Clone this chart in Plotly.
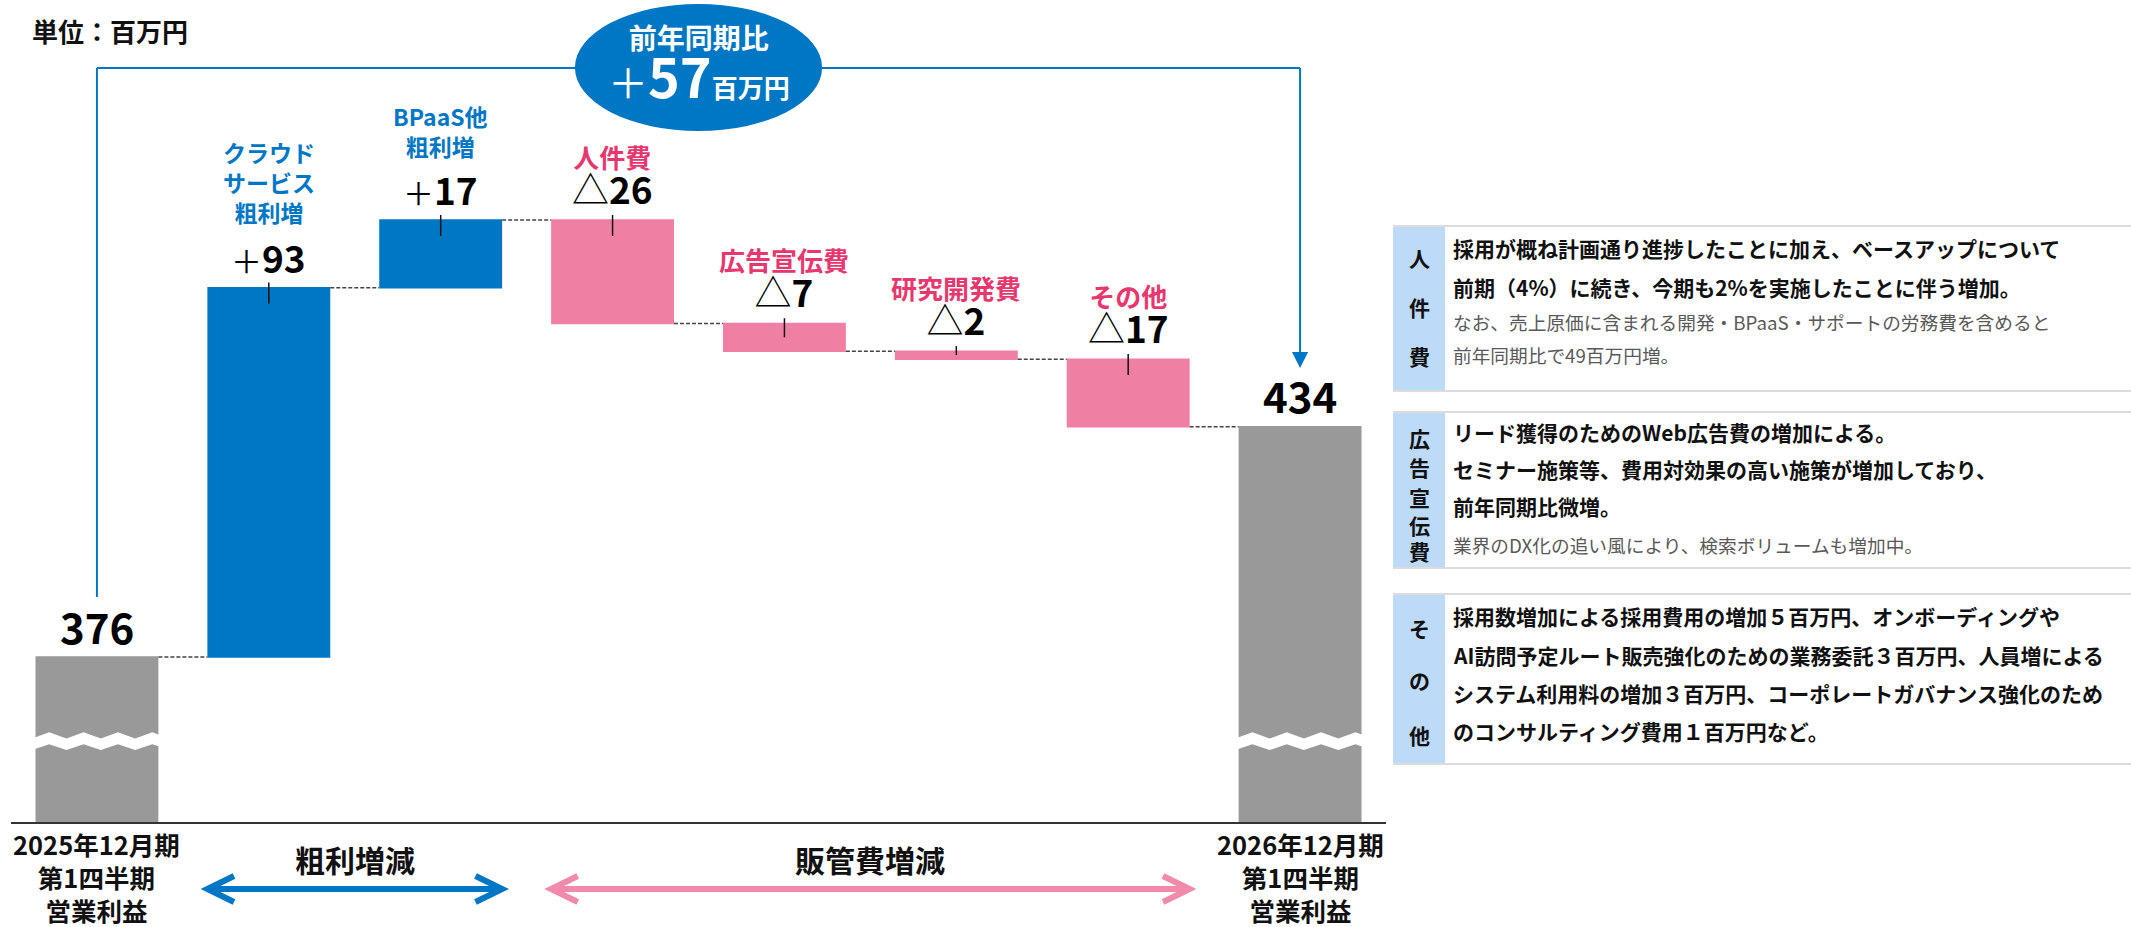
import plotly.graph_objects as go

FIG_W, FIG_H = 2131, 927
FONT = "Noto Sans CJK JP"

# ---------------- data ----------------
STEP_KEYS = ["start", "cloud", "bpaas", "labor", "ads", "rnd", "other", "end"]
STEP_MEASURES = ["absolute", "relative", "relative", "relative",
                 "relative", "relative", "relative", "absolute"]
STEP_VALUES = [376, 93, 17, -26, -7, -2, -17, 434]
STEP_TITLES = [[], ["クラウド", "サービス", "粗利増"], ["BPaaS他", "粗利増"],
               ["人件費"], ["広告宣伝費"], ["研究開発費"], ["その他"], []]
PERIOD_LABELS = [["2025年12月期", "第1四半期", "営業利益"],
                 ["2026年12月期", "第1四半期", "営業利益"]]
GROUP_LABELS = ["粗利増減", "販管費増減"]
GROUP_SPANS = [(1, 2), (3, 6)]
YOY_TITLE = "前年同期比"
YOY_CHANGE = 57
UNIT_LABEL = "単位：百万円"

NOTE_TITLES = ["人件費", "広告宣伝費", "その他"]
NOTE_BOLD = [
    ["採用が概ね計画通り進捗したことに加え、ベースアップについて",
     "前期（4%）に続き、今期も2%を実施したことに伴う増加。"],
    ["リード獲得のためのWeb広告費の増加による。",
     "セミナー施策等、費用対効果の高い施策が増加しており、",
     "前年同期比微増。"],
    ["採用数増加による採用費用の増加５百万円、オンボーディングや",
     "AI訪問予定ルート販売強化のための業務委託３百万円、人員増による",
     "システム利用料の増加３百万円、コーポレートガバナンス強化のため",
     "のコンサルティング費用１百万円など。"],
]
NOTE_SMALL = [
    ["なお、売上原価に含まれる開発・BPaaS・サポートの労務費を含めると",
     "前年同期比で49百万円増。"],
    ["業界のDX化の追い風により、検索ボリュームも増加中。"],
    [],
]

# ---------------- styles ----------------
BLUE = "#0077C4"
PINK_BAR = "#EF80A3"
PINK_TEXT = "#E6386F"
GREY = "#999999"
ARROW_PINK = "#F28BAB"
NOTE_TAB = "#BDDAF8"
NOTE_LINE = "#DCDCDC"

Y_MIN, Y_MAX = 334.5, 541.4          # broken value axis
BAR_W = 0.715
X_DOMAIN = (11 / FIG_W, 1386 / FIG_W)
Y_DOMAIN = (1 - 822 / FIG_H, 1.0)


def pxx(x):
    return x / FIG_W


def pxy(y):
    return 1 - y / FIG_H


def value_text(measure, v):
    if measure != "relative":
        return f"<b>{v}</b>"
    if v > 0:
        return f"<span style='font-size:31px'>＋</span><b>{v}</b>"
    return f"△<b>{abs(v)}</b>"


xs = list(range(len(STEP_KEYS)))

# bar extents along the running total
tops, bottoms = [], []
running = 0
for m, v in zip(STEP_MEASURES, STEP_VALUES):
    if m == "absolute":
        running = v
        tops.append(v)
        bottoms.append(Y_MIN)
    else:
        start, running = running, running + v
        tops.append(max(start, running))
        bottoms.append(min(start, running))

fig = go.Figure()
fig.add_trace(go.Waterfall(
    x=xs, y=STEP_VALUES, measure=STEP_MEASURES, width=BAR_W,
    increasing=dict(marker=dict(color=BLUE)),
    decreasing=dict(marker=dict(color=PINK_BAR)),
    totals=dict(marker=dict(color=GREY)),
    connector=dict(line=dict(color="#444444", width=1.5, dash="4px,2px")),
    hoverinfo="skip", showlegend=False,
))

# small leader ticks crossing the top of each change bar
tx, ty = [], []
for i, m in enumerate(STEP_MEASURES):
    if m == "relative":
        lo = max(tops[i] - 4.0, (tops[i] + bottoms[i]) / 2)
        tx += [i, i, None]
        ty += [tops[i] + 1.3, lo, None]
fig.add_trace(go.Scatter(x=tx, y=ty, mode="lines",
                         line=dict(color="#111111", width=1.5),
                         hoverinfo="skip", showlegend=False))

annotations = []
shapes = []

# value labels and step titles
for i, (m, v) in enumerate(zip(STEP_MEASURES, STEP_VALUES)):
    lines = STEP_TITLES[i]
    if m != "relative":
        annotations.append(dict(x=i, y=tops[i], xref="x", yref="y",
                                text=value_text(m, v), showarrow=False,
                                yanchor="middle", yshift=32,
                                font=dict(family=FONT, size=42,
                                          color="#000000")))
    elif v > 0:
        annotations.append(dict(x=i, y=tops[i], xref="x", yref="y",
                                text=value_text(m, v), showarrow=False,
                                yanchor="middle", yshift=31,
                                font=dict(family=FONT, size=37,
                                          color="#000000")))
        annotations.append(dict(x=i, y=tops[i], xref="x", yref="y",
                                text="<br>".join(lines), showarrow=False,
                                yanchor="middle",
                                yshift=106 if len(lines) > 2 else 89,
                                font=dict(family=FONT, size=23, color=BLUE,
                                          weight="bold")))
    else:
        txt = (f"<span style='font-size:26px'><b>{lines[0]}</b></span><br>"
               f"<span style='font-size:37px;color:#000000'>"
               f"{value_text(m, v)}</span>")
        annotations.append(dict(x=i, y=tops[i], xref="x", yref="y",
                                text=txt, showarrow=False, yanchor="middle",
                                yshift=44,
                                font=dict(family=FONT, size=27.5,
                                          color=PINK_TEXT)))

# axis break zigzag on the two totals
for i, m in enumerate(STEP_MEASURES):
    if m != "absolute":
        continue
    xl = i - BAR_W / 2 - 0.02
    up, low = [], []
    for k in range(9):
        x = xl + 0.1 * k
        up.append((x, 357.1 if k % 2 else 355.5))
        low.append((x, 354.1 if k % 2 else 352.6))
    pts = up + low[::-1]
    path = "M " + " L ".join(f"{x:.4f},{y:.3f}" for x, y in pts) + " Z"
    shapes.append(dict(type="path", xref="x", yref="y", path=path,
                       fillcolor="white", line=dict(width=0), layer="above"))

# year-on-year bracket
first, last = 0, len(STEP_KEYS) - 1
yb = pxy(68)
shapes += [
    dict(type="line", xref="x", yref="paper", x0=first, x1=first,
         y0=yb, y1=pxy(597), line=dict(color=BLUE, width=2)),
    dict(type="line", xref="x", yref="paper", x0=first, x1=last,
         y0=yb, y1=yb, line=dict(color=BLUE, width=2)),
    dict(type="line", xref="x", yref="paper", x0=last, x1=last,
         y0=yb, y1=pxy(354), line=dict(color=BLUE, width=2)),
    dict(type="path", xref="x", yref="paper",
         path=f"M {last-0.047},{pxy(352)} L {last+0.047},{pxy(352)} "
              f"L {last},{pxy(368)} Z",
         fillcolor=BLUE, line=dict(width=0)),
    dict(type="circle", xref="x", yref="paper",
         x0=(first + last) / 2 - 0.719, x1=(first + last) / 2 + 0.719,
         y0=pxy(131), y1=pxy(4), fillcolor=BLUE, line=dict(width=0)),
]
mid = (first + last) / 2
annotations.append(dict(
    x=mid, y=pxy(65), xref="x", yref="paper", showarrow=False,
    yanchor="middle",
    text=(f"<span style='font-size:28px'><b>{YOY_TITLE}</b></span><br>"
          "<span style='font-size:40px'>＋</span>"
          f"<span style='font-size:54px'><b>{YOY_CHANGE}</b></span>"
          "<span style='font-size:26px'><b>百万円</b></span>"),
    font=dict(family=FONT, size=38, color="white")))

# unit
annotations.append(dict(x=pxx(30), y=pxy(31), xref="paper", yref="paper",
                        text=UNIT_LABEL, showarrow=False, xanchor="left",
                        yanchor="middle",
                        font=dict(family=FONT, size=26, color="#111111",
                                  weight="bold")))

# period labels under the totals
for i, lines in zip([first, last], PERIOD_LABELS):
    annotations.append(dict(x=i, y=pxy(876), xref="x", yref="paper",
                            text="<br>".join(lines), showarrow=False,
                            yanchor="middle",
                            font=dict(family=FONT, size=25.5,
                                      color="#111111", weight="bold")))

# group labels with double arrows
for label, (a, b), col in zip(GROUP_LABELS, GROUP_SPANS, [BLUE, ARROW_PINK]):
    x0, x1 = a - BAR_W / 2, b + BAR_W / 2
    annotations.append(dict(x=(x0 + x1) / 2, y=pxy(859), xref="x",
                            yref="paper", text=label, showarrow=False,
                            yanchor="middle",
                            font=dict(family=FONT, size=30, color="#111111",
                                      weight="bold")))
    ya, arm, head = pxy(889), 13 / FIG_H, 0.155
    shapes.append(dict(type="line", xref="x", yref="paper", x0=x0 + 0.01,
                       x1=x1 - 0.01, y0=ya, y1=ya, line=dict(color=col, width=6)))
    shapes.append(dict(type="path", xref="x", yref="paper",
                       path=f"M {x0+head},{ya+arm} L {x0},{ya} L {x0+head},{ya-arm}",
                       line=dict(color=col, width=6)))
    shapes.append(dict(type="path", xref="x", yref="paper",
                       path=f"M {x1-head},{ya+arm} L {x1},{ya} L {x1-head},{ya-arm}",
                       line=dict(color=col, width=6)))

# explanatory note boxes
BOX_TOP = [226, 412, 594]
BOX_BOT = [391, 568, 764]
BOLD_Y = [[248, 287], [432, 469, 506], [616, 655, 693, 731]]
SMALL_Y = [[321, 354], [544], []]
TITLE_Y = [[258, 307, 356], [438, 467, 497, 525, 551], [628, 680, 735]]
TAB_X0, TAB_X1, TEXT_X = 1393, 1445, 1451
for n, title in enumerate(NOTE_TITLES):
    t, b = BOX_TOP[n], BOX_BOT[n]
    shapes.append(dict(type="rect", xref="paper", yref="paper",
                       x0=pxx(TAB_X0), x1=pxx(TAB_X1), y0=pxy(b), y1=pxy(t),
                       fillcolor=NOTE_TAB, line=dict(width=0)))
    for yy in (t, b):
        shapes.append(dict(type="line", xref="paper", yref="paper",
                           x0=pxx(TAB_X0), x1=1, y0=pxy(yy), y1=pxy(yy),
                           line=dict(color=NOTE_LINE, width=2)))
    for ch, yy in zip(title, TITLE_Y[n]):
        annotations.append(dict(x=pxx((TAB_X0 + TAB_X1) / 2), y=pxy(yy),
                                xref="paper", yref="paper", text=ch,
                                showarrow=False, yanchor="middle",
                                font=dict(family=FONT, size=21,
                                          color="#111111", weight="bold")))
    for line, yy in zip(NOTE_BOLD[n], BOLD_Y[n]):
        annotations.append(dict(x=pxx(TEXT_X), y=pxy(yy), xref="paper",
                                yref="paper", text=line, showarrow=False,
                                xanchor="left", yanchor="middle",
                                font=dict(family=FONT, size=21,
                                          color="#111111", weight="bold")))
    for line, yy in zip(NOTE_SMALL[n], SMALL_Y[n]):
        annotations.append(dict(x=pxx(TEXT_X), y=pxy(yy), xref="paper",
                                yref="paper", text=line, showarrow=False,
                                xanchor="left", yanchor="middle",
                                font=dict(family=FONT, size=18.7,
                                          color="#595959")))

fig.update_layout(
    width=FIG_W, height=FIG_H,
    margin=dict(l=0, r=0, t=0, b=0),
    paper_bgcolor="white", plot_bgcolor="white",
    font=dict(family=FONT),
    xaxis=dict(domain=list(X_DOMAIN), range=[-0.5, 7.5], showgrid=False,
               zeroline=False, showline=True, linecolor="#333333",
               linewidth=2, showticklabels=False, ticks="", fixedrange=True),
    yaxis=dict(domain=list(Y_DOMAIN), range=[Y_MIN, Y_MAX], visible=False,
               fixedrange=True),
    shapes=shapes, annotations=annotations,
)

fig.write_html("out.html", include_plotlyjs=True)
